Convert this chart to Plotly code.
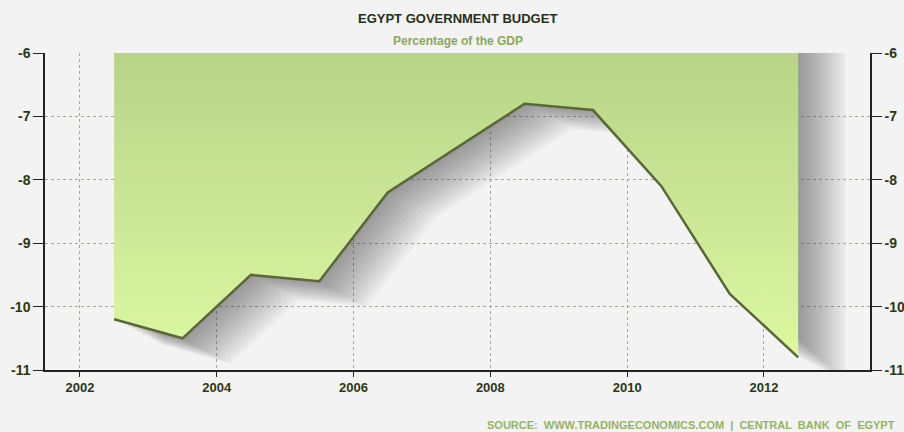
import plotly.graph_objects as go

years = [2002.5, 2003.5, 2004.5, 2005.5, 2006.5, 2007.5, 2008.5, 2009.5, 2010.5, 2011.5, 2012.5]
budget = [-10.2, -10.5, -9.5, -9.6, -8.2, -7.5, -6.8, -6.9, -8.1, -9.8, -10.8]
y_ticks = [-6, -7, -8, -9, -10, -11]
x_ticks = [2002, 2004, 2006, 2008, 2010, 2012]
top_level = -6

fig = go.Figure()

# soft shadow (decorative, offset copies of the data)
n_layers = 14
for i in range(n_layers, 0, -1):
    f = i / n_layers
    dx, dy = 0.7 * f, -0.4 * f
    sx = [x + dx for x in years]
    sy = [v + dy for v in budget]
    fig.add_trace(go.Scatter(x=sx, y=[top_level] * len(sx), mode="lines", line=dict(width=0),
                             hoverinfo="skip", showlegend=False))
    fig.add_trace(go.Scatter(x=sx, y=sy, mode="lines", line=dict(width=0), fill="tonexty",
                             fillcolor="rgba(40,40,40,0.04)", hoverinfo="skip", showlegend=False))

fig.add_trace(go.Scatter(x=years, y=[top_level] * len(years), mode="lines", line=dict(width=0),
                         hoverinfo="skip", showlegend=False))
fig.add_trace(go.Scatter(
    x=years, y=budget, mode="lines",
    line=dict(color="#5a6838", width=2.5),
    fill="tonexty",
    fillgradient=dict(type="vertical", colorscale=[[0, "#ddf8a2"], [1, "#b7d488"]]),
    showlegend=False,
))
fig.add_trace(go.Scatter(x=years, y=budget, yaxis="y2", mode="lines", line=dict(width=0),
                         hoverinfo="skip", showlegend=False, opacity=0))

font_family = "Arial, Liberation Sans, sans-serif"
tickfont = dict(family=font_family, size=14, color="#2b3812")
fig.update_layout(
    width=904, height=432,
    margin=dict(l=45, r=34, t=53, b=62, autoexpand=False),
    paper_bgcolor="#f3f3f3",
    plot_bgcolor="rgba(0,0,0,0)",
    xaxis=dict(range=[2001.49, 2013.55], tickvals=x_ticks, ticktext=[f"<b>{t}</b>" for t in x_ticks],
               showgrid=True, gridcolor="#a8a89a", griddash="dot", gridwidth=1,
               showline=True, linecolor="#222", linewidth=1.5,
               ticks="outside", ticklen=5, tickcolor="#222",
               tickfont=dict(family=font_family, size=13, color="#2b3812"),
               zeroline=False, automargin=False),
    yaxis=dict(range=[-11, -6], tickvals=y_ticks, ticktext=[f"<b>{t}</b>" for t in y_ticks],
               showgrid=True, gridcolor="#a8a89a", griddash="dot", gridwidth=1,
               showline=True, linecolor="#222", linewidth=1.5,
               ticks="outside", ticklen=10, tickcolor="#222", tickfont=tickfont,
               zeroline=False, automargin=False),
    yaxis2=dict(range=[-11, -6], overlaying="y", side="right", tickvals=y_ticks,
                ticktext=[f"<b>{t}</b>" for t in y_ticks], showgrid=False,
                showline=True, linecolor="#222", linewidth=1.5,
                ticks="outside", ticklen=10, tickcolor="#222", tickfont=tickfont,
                zeroline=False, automargin=False),
)

ph = 432 - 53 - 62
pw = 904 - 45 - 34
fig.add_annotation(text="<b>EGYPT GOVERNMENT BUDGET</b>", x=0.5, y=1 + (53 - 18) / ph,
                   xref="paper", yref="paper", yanchor="middle", showarrow=False,
                   font=dict(family=font_family, size=13, color="#26301a"))
fig.add_annotation(text="<b>Percentage of the GDP</b>", x=0.5, y=1 + (53 - 41) / ph,
                   xref="paper", yref="paper", yanchor="middle", showarrow=False,
                   font=dict(family=font_family, size=12, color="#8aa85a"))
fig.add_annotation(text="<b>SOURCE:  WWW.TRADINGECONOMICS.COM  |  CENTRAL  BANK  OF  EGYPT</b>",
                   x=1 + (897 - 870) / pw, y=-(425 - 370) / ph, xref="paper", yref="paper",
                   xanchor="right", yanchor="middle", showarrow=False,
                   font=dict(family=font_family, size=11, color="#93b364"))

fig.write_html("out.html")
